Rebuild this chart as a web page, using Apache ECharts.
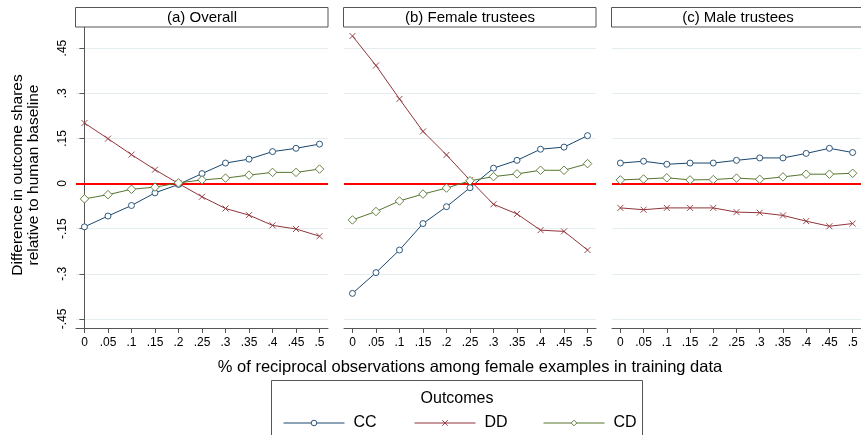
<!DOCTYPE html>
<html><head><meta charset="utf-8">
<script src="https://cdn.jsdelivr.net/npm/echarts@6/dist/echarts.min.js"></script>
<style>html,body{margin:0;padding:0;background:#fff}#c{width:861px;height:435px}</style>
</head><body><div id="c"></div>
<script>
const xValues = [0, 0.05, 0.1, 0.15, 0.2, 0.25, 0.3, 0.35, 0.4, 0.45, 0.5];
const xTickLabels = ['0', '.05', '.1', '.15', '.2', '.25', '.3', '.35', '.4', '.45', '.5'];
const yTicks = [-0.45, -0.3, -0.15, 0, 0.15, 0.3, 0.45];
const yTickLabels = ['-.45', '-.3', '-.15', '0', '.15', '.3', '.45'];
const panelTitles = ['(a) Overall', '(b) Female trustees', '(c) Male trustees'];
const seriesNames = ['CC', 'DD', 'CD'];

const overallCC = [-0.144, -0.108, -0.073, -0.031, -0.003, 0.033, 0.068, 0.081, 0.106, 0.117, 0.131];
const overallDD = [0.201, 0.149, 0.096, 0.046, 0.000, -0.044, -0.083, -0.105, -0.139, -0.151, -0.175];
const overallCD = [-0.051, -0.037, -0.019, -0.012, 0.002, 0.012, 0.018, 0.028, 0.037, 0.037, 0.048];

const femaleCC = [-0.365, -0.296, -0.221, -0.133, -0.077, -0.014, 0.051, 0.077, 0.114, 0.121, 0.159];
const femaleDD = [0.490, 0.392, 0.281, 0.173, 0.095, 0.011, -0.069, -0.101, -0.155, -0.159, -0.221];
const femaleCD = [-0.121, -0.093, -0.058, -0.035, -0.015, 0.009, 0.023, 0.032, 0.044, 0.044, 0.066];

const maleCC = [0.068, 0.074, 0.064, 0.068, 0.068, 0.077, 0.085, 0.085, 0.100, 0.117, 0.103];
const maleDD = [-0.081, -0.087, -0.081, -0.081, -0.081, -0.095, -0.097, -0.106, -0.125, -0.142, -0.133];
const maleCD = [0.012, 0.015, 0.019, 0.012, 0.013, 0.018, 0.014, 0.022, 0.031, 0.031, 0.034];

const panels = [
  [overallCC, overallDD, overallCD],
  [femaleCC, femaleDD, femaleCD],
  [maleCC, maleDD, maleCD]
];

const FONT = '"Liberation Sans", Arial, Helvetica, sans-serif';
const colors = ['#1a476f', '#90353b', '#55752f'];
const symbols = ['circle', 'path://M0,0L10,10M10,0L0,10', 'diamond'];
const symbolFills = ['#ffffff', '#90353b', '#ffffff'];
const symbolSizes = [6, 6, 8.5];
const gridLefts = [76, 344, 612];
const GW = 252, GTOP = 27, GH = 301;
const axisColor = '#555';

function labelFor(vals, labels) {
  return function (v) {
    const i = vals.findIndex(x => Math.abs(x - v) < 1e-9);
    return i >= 0 ? labels[i] : '';
  };
}

const grids = gridLefts.map(l => ({ left: l, top: GTOP, width: GW, height: GH }));

const xAxes = gridLefts.map((l, i) => ({
  type: 'value', gridIndex: i, min: -0.018, max: 0.518,
  axisLine: { show: true, onZero: false, lineStyle: { color: axisColor, width: 1 } },
  axisTick: { show: true, length: 5, customValues: xValues, lineStyle: { color: axisColor } },
  axisLabel: { customValues: xValues, formatter: labelFor(xValues, xTickLabels), fontSize: 12, color: '#000', fontFamily: FONT, margin: 9 },
  splitLine: { show: false },
  name: i === 1 ? '% of reciprocal observations among female examples in training data' : '',
  nameLocation: 'middle', nameGap: 31,
  nameTextStyle: { fontSize: 16.5, color: '#000', fontFamily: FONT }
}));

const yAxes = gridLefts.map((l, i) => ({
  type: 'value', gridIndex: i, min: -0.48, max: 0.52,
  axisLine: { show: i === 0, lineStyle: { color: axisColor, width: 1 } },
  axisTick: { show: i === 0, length: 5, customValues: yTicks, lineStyle: { color: axisColor } },
  axisLabel: { show: i === 0, customValues: yTicks, rotate: 90, formatter: labelFor(yTicks, yTickLabels), fontSize: 12, color: '#000', fontFamily: FONT, margin: 7 },
  splitLine: { show: true, lineStyle: { color: '#e4edf0', width: 1 } },
  name: i === 0 ? 'Difference in outcome shares\nrelative to human baseline' : '',
  nameLocation: 'middle', nameRotate: 90, nameGap: 34,
  nameTextStyle: { fontSize: 15.5, lineHeight: 16, color: '#000', fontFamily: FONT, padding: [0, 0, 0, 5] }
}));

const series = [];
panels.forEach((p, pi) => {
  p.forEach((vals, si) => {
    const s = {
      type: 'line', name: seriesNames[si], xAxisIndex: pi, yAxisIndex: pi,
      data: xValues.map((x, k) => [x, vals[k]]),
      symbol: symbols[si], symbolSize: symbolSizes[si], showSymbol: true,
      lineStyle: { color: colors[si], width: 1 },
      itemStyle: { color: symbolFills[si], borderColor: colors[si], borderWidth: 0.9 },
      z: 3 + si, animation: false, silent: true
    };
    if (si === 0) {
      s.markLine = {
        silent: true, symbol: 'none', animation: false,
        label: { show: false },
        lineStyle: { color: '#ff0000', width: 2, type: 'solid' },
        data: [{ yAxis: 0 }]
      };
    }
    series.push(s);
  });
});

const graphic = [];
panelTitles.forEach((t, i) => {
  graphic.push({
    type: 'rect', shape: { x: gridLefts[i] - 0.5, y: 7.5, width: GW + 0.5, height: 19.5 },
    style: { fill: '#fff', stroke: '#555', lineWidth: 1 }, z: 10
  });
  graphic.push({
    type: 'text', x: gridLefts[i] + GW / 2, y: 17.5,
    style: { text: t, fill: '#000', font: '15px ' + FONT, textAlign: 'center', textVerticalAlign: 'middle' }, z: 11
  });
});
graphic.push({
  type: 'rect', shape: { x: 271.5, y: 380.5, width: 371, height: 70 },
  style: { fill: '#fff', stroke: '#555', lineWidth: 1 }, z: 0
});
graphic.push({
  type: 'text', x: 457, y: 399,
  style: { text: 'Outcomes', fill: '#000', font: '16px ' + FONT, textAlign: 'center', textVerticalAlign: 'middle' }, z: 1
});

const legendLefts = [278, 409, 538];
const legends = seriesNames.map((n, i) => ({
  data: [n], left: legendLefts[i], top: 410, orient: 'horizontal',
  itemWidth: 61, itemHeight: 7, selectedMode: false,
  lineStyle: { width: 1 },
  itemStyle: { borderWidth: 0.9 },
  textStyle: { fontSize: 16, color: '#000', fontFamily: FONT, padding: [0, 0, 0, 4] }
}));

const chart = echarts.init(document.getElementById('c'), null, { renderer: 'canvas' });
chart.setOption({
  backgroundColor: '#fff',
  animation: false,
  grid: grids,
  xAxis: xAxes,
  yAxis: yAxes,
  legend: legends,
  graphic: graphic,
  series: series
});
</script></body></html>
